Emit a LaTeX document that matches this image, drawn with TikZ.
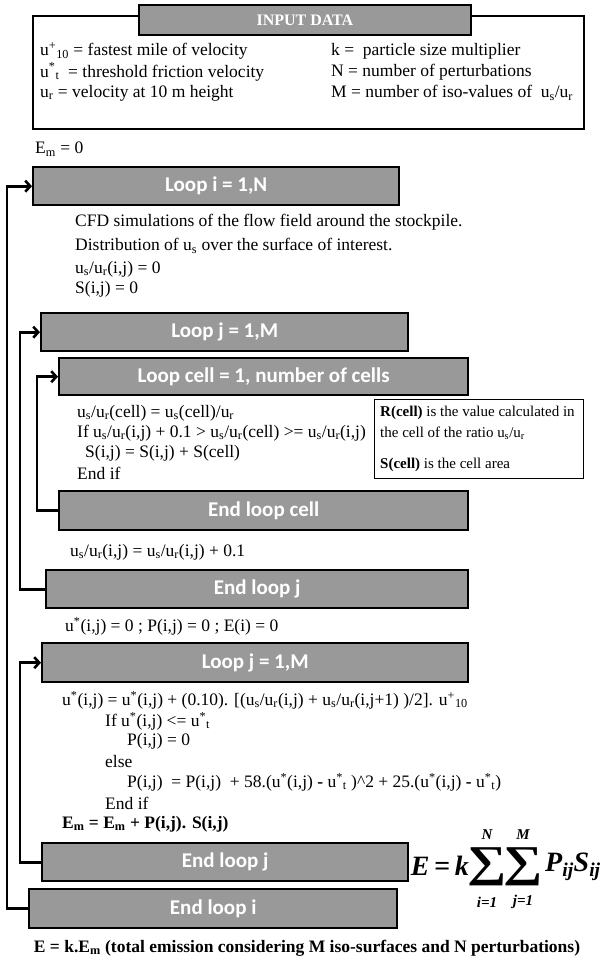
\documentclass[tikz,border=0pt]{standalone}
\usepackage{fontspec}
\setmainfont{Liberation Serif}
\newfontfamily\boxfont{Carlito}
\usetikzlibrary{arrows.meta}
\definecolor{boxgray}{RGB}{153,153,153}
\newcommand\lo[1]{\textsubscript{#1}}
\newcommand\hi[1]{\textsuperscript{#1}}
\tikzset{
  lbox/.style={draw=black, line width=2.4pt, fill=boxgray, inner sep=0pt, anchor=north west,
    text=white, font=\boxfont\bfseries\fontsize{21}{21}\selectfont},
  txt/.style={anchor=west, inner sep=0pt, font=\fontsize{17.5}{20}\selectfont},
  ntxt/.style={anchor=west, inner sep=0pt, font=\fontsize{15}{18}\selectfont},
  arr/.style={line width=2.6pt, -{Straight Barb[length=5pt,width=11pt]}},
  frm/.style={inner sep=0pt, font=\bfseries\itshape\fontsize{28}{28}\selectfont},
  sig/.style={inner sep=0pt, xscale=1.25, font=\bfseries\fontsize{44}{44}\selectfont},
  lim/.style={inner sep=0pt, font=\bfseries\itshape\fontsize{15}{15}\selectfont},
}
\begin{document}
\begin{tikzpicture}[x=1pt,y=-1pt]
\useasboundingbox (0,0) rectangle (604,961);
% input data
\node[draw=black, line width=1.8pt, minimum width=551pt, minimum height=113pt, anchor=north west, inner sep=0pt] (inbox) at (32,15) {};
\node[draw=black, line width=1.8pt, fill=boxgray, minimum width=332pt, minimum height=30pt, anchor=north west, inner sep=0pt,
  text=white, font=\bfseries\fontsize{16}{16}\selectfont] (inhead) at (138,4) {INPUT DATA};
\node[txt] (in1) at (40,51) {u\hi{+}\lo{10} = fastest mile of velocity};
\node[txt] (in2) at (40,72) {u\hi{*}\lo{t}\ \ = threshold friction velocity};
\node[txt] (in3) at (40,93) {u\lo{r} = velocity at 10 m height};
\node[txt] (in4) at (331,51) {k = \ particle size multiplier};
\node[txt] (in5) at (331,72) {N = number of perturbations};
\node[txt] (in6) at (331,93) {M = number of iso-values of \ u\lo{s}/u\lo{r}};
% E_m = 0
\node[txt] (em0) at (35,149) {E\lo{m} = 0};
% loop i
\node[lbox, minimum width=366pt, minimum height=38pt] (loopi) at (32,166) {Loop i = 1,N};
\node[txt] (c1) at (75,222) {CFD simulations of the flow field around the stockpile.};
\node[txt] (c2) at (75,246) {Distribution of u\lo{s} over the surface of interest.};
\node[txt] (c3) at (75,269) {u\lo{s}/u\lo{r}(i,j) = 0};
\node[txt] (c4) at (75,289) {S(i,j) = 0};
% loop j
\node[lbox, minimum width=367pt, minimum height=38pt] (loopj) at (40,312) {Loop j = 1,M};
% loop cell
\node[lbox, minimum width=409pt, minimum height=37pt] (loopc) at (58,357) {Loop cell = 1, number of cells};
\node[txt] (d1) at (77,413) {u\lo{s}/u\lo{r}(cell) = u\lo{s}(cell)/u\lo{r}};
\node[txt] (d2) at (77,433) {If u\lo{s}/u\lo{r}(i,j) + 0.1 > u\lo{s}/u\lo{r}(cell) >= u\lo{s}/u\lo{r}(i,j)};
\node[txt] (d3) at (85,453) {S(i,j) = S(i,j) + S(cell)};
\node[txt] (d4) at (77,473) {End if};
% note
\node[draw=black, line width=1.4pt, minimum width=209pt, minimum height=79pt, anchor=north west, inner sep=0pt] (note) at (374,399) {};
\node[ntxt] (n1) at (380,413) {\textbf{R(cell)} is the value calculated in};
\node[ntxt] (n2) at (380,433) {the cell of the ratio u\lo{s}/u\lo{r}};
\node[ntxt] (n3) at (380,465) {\textbf{S(cell)} is the cell area};
% end loop cell
\node[lbox, minimum width=409pt, minimum height=39pt] (endc) at (58,490) {End loop cell};
\node[txt] (e1) at (70,552) {u\lo{s}/u\lo{r}(i,j) = u\lo{s}/u\lo{r}(i,j) + 0.1};
% end loop j
\node[lbox, minimum width=422pt, minimum height=38pt] (endj) at (45,569) {End loop j};
\node[txt] (f1) at (65,626) {u\hi{*}(i,j) = 0 ; P(i,j) = 0 ; E(i) = 0};
% loop j 2
\node[lbox, minimum width=426pt, minimum height=39pt] (loopjb) at (41,642) {Loop j = 1,M};
\node[txt] (g1) at (62,700) {u\hi{*}(i,j) = u\hi{*}(i,j) + (0.10). [(u\lo{s}/u\lo{r}(i,j) + u\lo{s}/u\lo{r}(i,j+1) )/2]. u\hi{+}\lo{10}};
\node[txt] (g2) at (105,721) {If u\hi{*}(i,j) <= u\hi{*}\lo{t}};
\node[txt] (g3) at (127,741) {P(i,j) = 0};
\node[txt] (g4) at (105,762) {else};
\node[txt] (g5) at (127,782) {P(i,j) \ = P(i,j) \ + 58.(u\hi{*}(i,j) \textbf{-} u\hi{*}\lo{t} )\textasciicircum 2 + 25.(u\hi{*}(i,j) \textbf{-} u\hi{*}\lo{t})};
\node[txt] (g6) at (105,803) {End if};
\node[txt] (g7) at (62,824) {\textbf{E\lo{m} = E\lo{m} + P(i,j). S(i,j)}};
% end loop j 2
\node[lbox, minimum width=366pt, minimum height=38pt] (endjb) at (41,842) {End loop j};
% end loop i
\node[lbox, minimum width=368pt, minimum height=39pt] (endi) at (28,888) {End loop i};
% formula
\node[frm, anchor=east] (fE) at (469,866) {E\,=\,k};
\node[sig] (s1) at (487,867) {∑};
\node[sig] (s2) at (523,867) {∑};
\node[lim] (s1t) at (487,835) {N};
\node[lim] (s2t) at (523,835) {M};
\node[lim] (s1b) at (487,902) {i=1};
\node[lim] (s2b) at (523,902) {j=1};
\node[frm, anchor=west] (fP) at (545,867) {P\lo{ij}S\lo{ij}};
% bottom text
\node[inner sep=0pt, font=\bfseries\fontsize{17.5}{20}\selectfont] (bot) at (307,948) {E = k.E\lo{m} (total emission considering M iso-surfaces and N perturbations)};
% connectors
\draw[arr] (endi.west) -- ++(-21,0) |- (loopi.west);
\draw[arr] (endj.west) -- ++(-25,0) |- (loopj.west);
\draw[arr] (endc.west) -- ++(-21,0) |- (loopc.west);
\draw[arr] (endjb.west) -- ++(-21,0) |- (loopjb.west);
\end{tikzpicture}
\end{document}
